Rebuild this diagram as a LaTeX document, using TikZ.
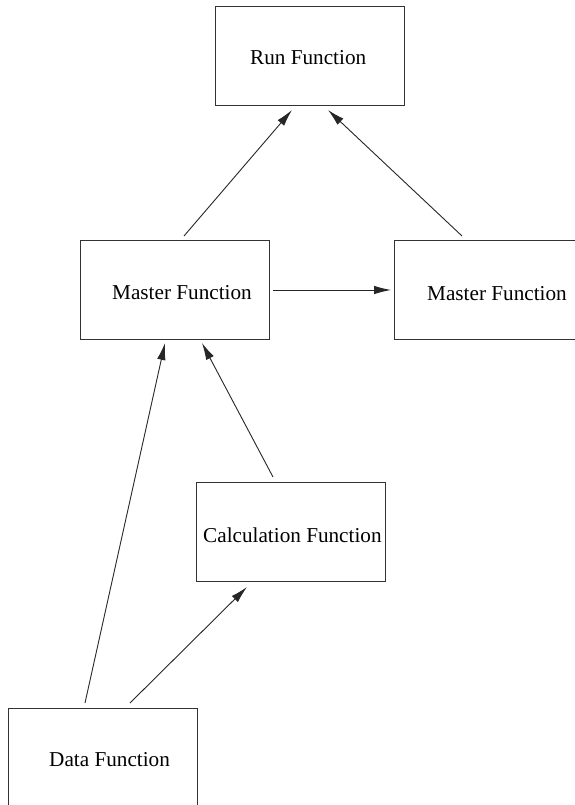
\documentclass[tikz,border=0pt]{standalone}
\usepackage{fontspec}
\setmainfont{Liberation Serif}
\usetikzlibrary{arrows.meta}
\begin{document}
\begin{tikzpicture}[x=1pt,y=-1pt,
  box/.style={draw=black!80,line width=1pt,minimum width=189pt,minimum height=99pt,inner sep=0pt},
  lbl/.style={anchor=base west,inner sep=0pt,font=\fontsize{21.2}{25}\selectfont},
  conn/.style={draw=black!85,line width=0.9pt,-{Latex[length=17pt,width=8.5pt]}}]
\useasboundingbox (0,0) rectangle (574,805);
\fill[white] (0,0) rectangle (574,805);
% boxes
\node[box] (run) at (309.5,56.5) {};
\node[box] (mL) at (174.5,289.5) {};
\node[box] (mR) at (488.5,290) {};
\node[box] (calc) at (291,532) {};
\node[box] (data) at (102.5,757.5) {};
% texts
\node[lbl] (trun) at (250,65) {Run Function};
\node[lbl] (tmL) at (112,299) {Master Function};
\node[lbl] (tmR) at (427,300) {Master Function};
\node[lbl] (tcalc) at (203,542) {Calculation Function};
\node[lbl] (tdata) at (49,766) {Data Function};
% connector ends
\coordinate (a1) at (184,236); \coordinate (b1) at (292,110);
\coordinate (a2) at (462,236); \coordinate (b2) at (328,110);
\coordinate (a3) at (273,290); \coordinate (b3) at (391,290);
\coordinate (a4) at (273,477); \coordinate (b4) at (202,343);
\coordinate (a5) at (85,703);  \coordinate (b5) at (165,343);
\coordinate (a6) at (130,703); \coordinate (b6) at (247,587);
\draw[conn] (a1) -- (b1);
\draw[conn] (a2) -- (b2);
\draw[conn] (a3) -- (b3);
\draw[conn] (a4) -- (b4);
\draw[conn] (a5) -- (b5);
\draw[conn] (a6) -- (b6);
\end{tikzpicture}
\end{document}
